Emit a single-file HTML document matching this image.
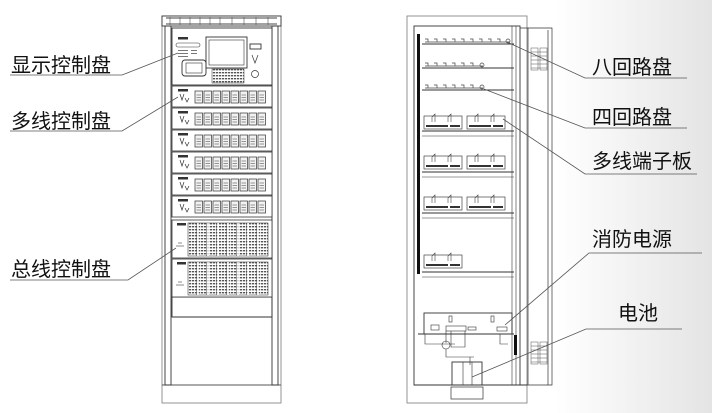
<!DOCTYPE html>
<html><head><meta charset="utf-8"><style>
html,body{margin:0;padding:0;background:#fff}
svg{display:block}
text{font-family:"Liberation Sans","Noto Sans CJK SC",sans-serif;fill:#111}
</style></head><body>
<svg width="712" height="413" viewBox="0 0 712 413" xmlns="http://www.w3.org/2000/svg">
<defs>
<linearGradient id="bg" x1="0" x2="1" y1="0" y2="0">
<stop offset="0" stop-color="#fff"/><stop offset="0.78" stop-color="#fff"/><stop offset="1" stop-color="#e4e4e4"/>
</linearGradient>
<g id="mod">
<rect x="0" y="0" width="7.5" height="12" fill="#f2f2f2" stroke="#333" stroke-width="0.7"/>
<line x1="1.5" y1="4" x2="6" y2="4" stroke="#555" stroke-width="0.6"/>
<line x1="1.5" y1="6.5" x2="6" y2="6.5" stroke="#555" stroke-width="0.6"/>
<line x1="1.5" y1="9" x2="6" y2="9" stroke="#555" stroke-width="0.6"/>
</g>
<g id="mpanel">
<rect x="172" y="0" width="100" height="21" fill="#fff" stroke="#333" stroke-width="0.8"/>
<rect x="178" y="3" width="10" height="2.5" fill="#333"/>
<path d="M180 8 l2 6 l2 -6 M185 12 l2 4 l2 -4" fill="none" stroke="#333" stroke-width="0.7"/>
<use href="#mod" x="195" y="5"/><use href="#mod" x="204" y="5"/><use href="#mod" x="213" y="5"/><use href="#mod" x="222" y="5"/>
<use href="#mod" x="231" y="5"/><use href="#mod" x="240" y="5"/><use href="#mod" x="249" y="5"/><use href="#mod" x="258" y="5"/>
</g>
<pattern id="dots" width="3" height="3" patternUnits="userSpaceOnUse"><rect width="3" height="3" fill="#fff"/><rect width="2.2" height="1.4" fill="#555"/></pattern>
<g id="bpanel">
<rect x="172" y="0" width="100" height="38" fill="#fff" stroke="#333" stroke-width="0.8"/>
<rect x="177" y="3" width="9" height="2.5" fill="#333"/>
<path d="M178 23h4M176 26h8" stroke="#666" stroke-width="0.8"/>
<rect x="188" y="3" width="80" height="33" fill="url(#dots)" stroke="#444" stroke-width="0.6"/>
<path d="M198 3v33M208 3v33M218 3v33M228 3v33M238 3v33M248 3v33M258 3v33" stroke="#fff" stroke-width="1.5"/>
<path d="M196.5 3v33M206.5 3v33M216.5 3v33M226.5 3v33M236.5 3v33M246.5 3v33M256.5 3v33" stroke="#444" stroke-width="0.5"/>
</g>
<g id="tboard">
<rect x="0" y="0" width="38" height="13" fill="#fff" stroke="#444" stroke-width="0.7"/>
<path d="M8 6 v-5 l3 -3 v8 M24 6 v-5 l3 -3 v8" fill="none" stroke="#444" stroke-width="0.6"/>
<rect x="2" y="9" width="22" height="2" fill="#333"/><rect x="26" y="9" width="10" height="2" fill="#333"/>
</g>
</defs>
<rect width="712" height="413" fill="url(#bg)"/>

<!-- LEFT CABINET -->
<g stroke="#333" fill="none" stroke-width="0.9">
<rect x="162" y="16" width="119" height="387" stroke="#888"/>
<rect x="162" y="16" width="119" height="10" fill="#fff"/>
<path d="M166 18h111M166 24h111" stroke="#444"/>
<path d="M170 17v8M180 17v8M190 17v8M200 17v8M210 17v8M220 17v8M232 17v8M244 17v8M256 17v8M268 17v8" stroke="#555" stroke-width="0.6"/>
<path d="M162 385h119" stroke="#555"/>
<rect x="165" y="26" width="6" height="359"/>
<rect x="272" y="26" width="6" height="359"/>
<rect x="172" y="28" width="100" height="57" fill="#fff"/>
<rect x="206" y="37" width="41" height="31"/>
<rect x="209" y="40" width="35" height="25" stroke-width="0.6"/>
<rect x="182" y="60" width="24" height="16" rx="3"/>
<rect x="186" y="63" width="16" height="10" stroke-width="0.6"/>
<rect x="250" y="44" width="11" height="5"/>
<path d="M252 55l3 8l3 -8" stroke-width="0.7"/>
<circle cx="255" cy="74" r="3.5" stroke-width="0.7"/>
<rect x="176" y="43" width="24" height="4" rx="2" stroke-width="0.6"/>
<rect x="178" y="37" width="10" height="2.5" fill="#333" stroke="none"/>
<rect x="212" y="69" width="32" height="14" fill="url(#dots)" stroke-width="0.5"/>
<rect x="172" y="297" width="100" height="20"/>
<path d="M172 317h100"/>
</g>
<g fill="#777"><rect x="178" y="50" width="10" height="1"/><rect x="178" y="53" width="10" height="1"/><rect x="178" y="56" width="10" height="1"/><rect x="191" y="50" width="6" height="1"/><rect x="191" y="53" width="6" height="1"/></g>
<use href="#mpanel" y="86"/><use href="#mpanel" y="108"/><use href="#mpanel" y="130"/>
<use href="#mpanel" y="152"/><use href="#mpanel" y="174"/><use href="#mpanel" y="196"/>
<use href="#bpanel" y="220"/><use href="#bpanel" y="259"/>

<!-- RIGHT CABINET -->
<g stroke="#333" fill="none" stroke-width="0.9">
<rect x="407" y="16" width="120" height="387" stroke="#888"/>
<rect x="414" y="26" width="106" height="359"/>
<path d="M520 28h32v357h-32M528 28v357M548 30v355" stroke-width="0.7"/>
<path d="M414 385h113"/>
<path d="M512 26v359M516 26v359" stroke-width="0.6"/>
<rect x="417" y="34" width="3" height="240" fill="#111" stroke="none"/>
<path d="M422 44h92M422 68h92M422 90h92" stroke-width="1"/>
<path d="M422 131h92M422 172h92M422 213h92M422 272h92" stroke-width="1"/>
<path d="M422 136h92M422 177h92M422 218h92M422 277h92" stroke-width="0.5"/>
<rect x="424" y="313" width="88" height="21"/>
<path d="M418 334h96"/>
<rect x="431" y="325" width="8" height="5" stroke-width="0.6"/>
<rect x="446" y="326" width="20" height="5" stroke-width="0.6"/>
<rect x="468" y="327" width="8" height="3" stroke-width="0.6"/>
<rect x="497" y="327" width="10" height="4" stroke-width="0.6"/>
<rect x="449" y="316" width="3" height="6" stroke-width="0.6"/>
<rect x="491" y="316" width="3" height="6" stroke-width="0.6"/>
<path d="M446 331v12M451 331v16h14v-16M425 334v10h30M500 334v10h8" stroke-width="0.6"/>
<circle cx="446" cy="345" r="4" stroke-width="0.6"/>
<path d="M446 349v8h24v8M460 357h14" stroke-width="0.6"/>
<rect x="452" y="362" width="30" height="23"/>
<path d="M463 362v23M472 362v23" stroke-width="0.6"/>
<rect x="451" y="387" width="32" height="12" stroke-width="0.7"/>
</g>
<rect x="514" y="335" width="3" height="20" fill="#111"/>
<g stroke="#555" stroke-width="0.5" fill="none">
<rect x="531" y="48" width="7" height="22"/><rect x="540" y="48" width="7" height="22"/>
<path d="M531 52h16M531 56h16M531 60h16M531 64h16M531 68h16"/>
<rect x="531" y="342" width="7" height="22"/><rect x="540" y="342" width="7" height="22"/>
<path d="M531 346h16M531 350h16M531 354h16M531 358h16M531 362h16"/>
</g>
<g stroke="#444" stroke-width="0.7" fill="none">
<path d="M425 42h85M425 39h3v3M434 39h3v3M443 39h3v3M452 39h3v3M461 39h3v3M470 39h3v3M479 39h3v3M488 39h3v3M497 39h3v3"/>
<path d="M425 66h58M425 63h3v3M434 63h3v3M443 63h3v3M452 63h3v3M461 63h3v3M470 63h3v3"/>
<path d="M425 88h58M425 85h3v3M434 85h3v3M443 85h3v3M452 85h3v3M461 85h3v3M470 85h3v3"/>
<circle cx="508" cy="41" r="2"/><circle cx="482" cy="65" r="2"/><circle cx="482" cy="87" r="2"/>
</g>
<use href="#tboard" x="424" y="116"/><use href="#tboard" x="467" y="116"/>
<use href="#tboard" x="424" y="156"/><use href="#tboard" x="467" y="156"/>
<use href="#tboard" x="424" y="197"/><use href="#tboard" x="467" y="197"/>
<use href="#tboard" x="424" y="255"/>

<!-- LABELS -->
<g font-size="20">
<text x="11" y="72">显示控制盘</text>
<text x="11" y="128">多线控制盘</text>
<text x="11" y="276">总线控制盘</text>
<text x="592" y="74">八回路盘</text>
<text x="592" y="124">四回路盘</text>
<text x="592" y="168">多线端子板</text>
<text x="592" y="246">消防电源</text>
<text x="618" y="320">电池</text>
</g>
<g stroke="#555" stroke-width="0.8" fill="none">
<path d="M10 75h112L178 53"/>
<path d="M10 131h112L178 97"/>
<path d="M10 280h118L176 248"/>
<path d="M687 78h-102L507 42"/>
<path d="M687 128h-102L484 89"/>
<path d="M697 174h-112L503 119"/>
<path d="M702 253h-113L505 325"/>
<path d="M682 329h-96L472 377"/>
</g>
</svg>
</body></html>
